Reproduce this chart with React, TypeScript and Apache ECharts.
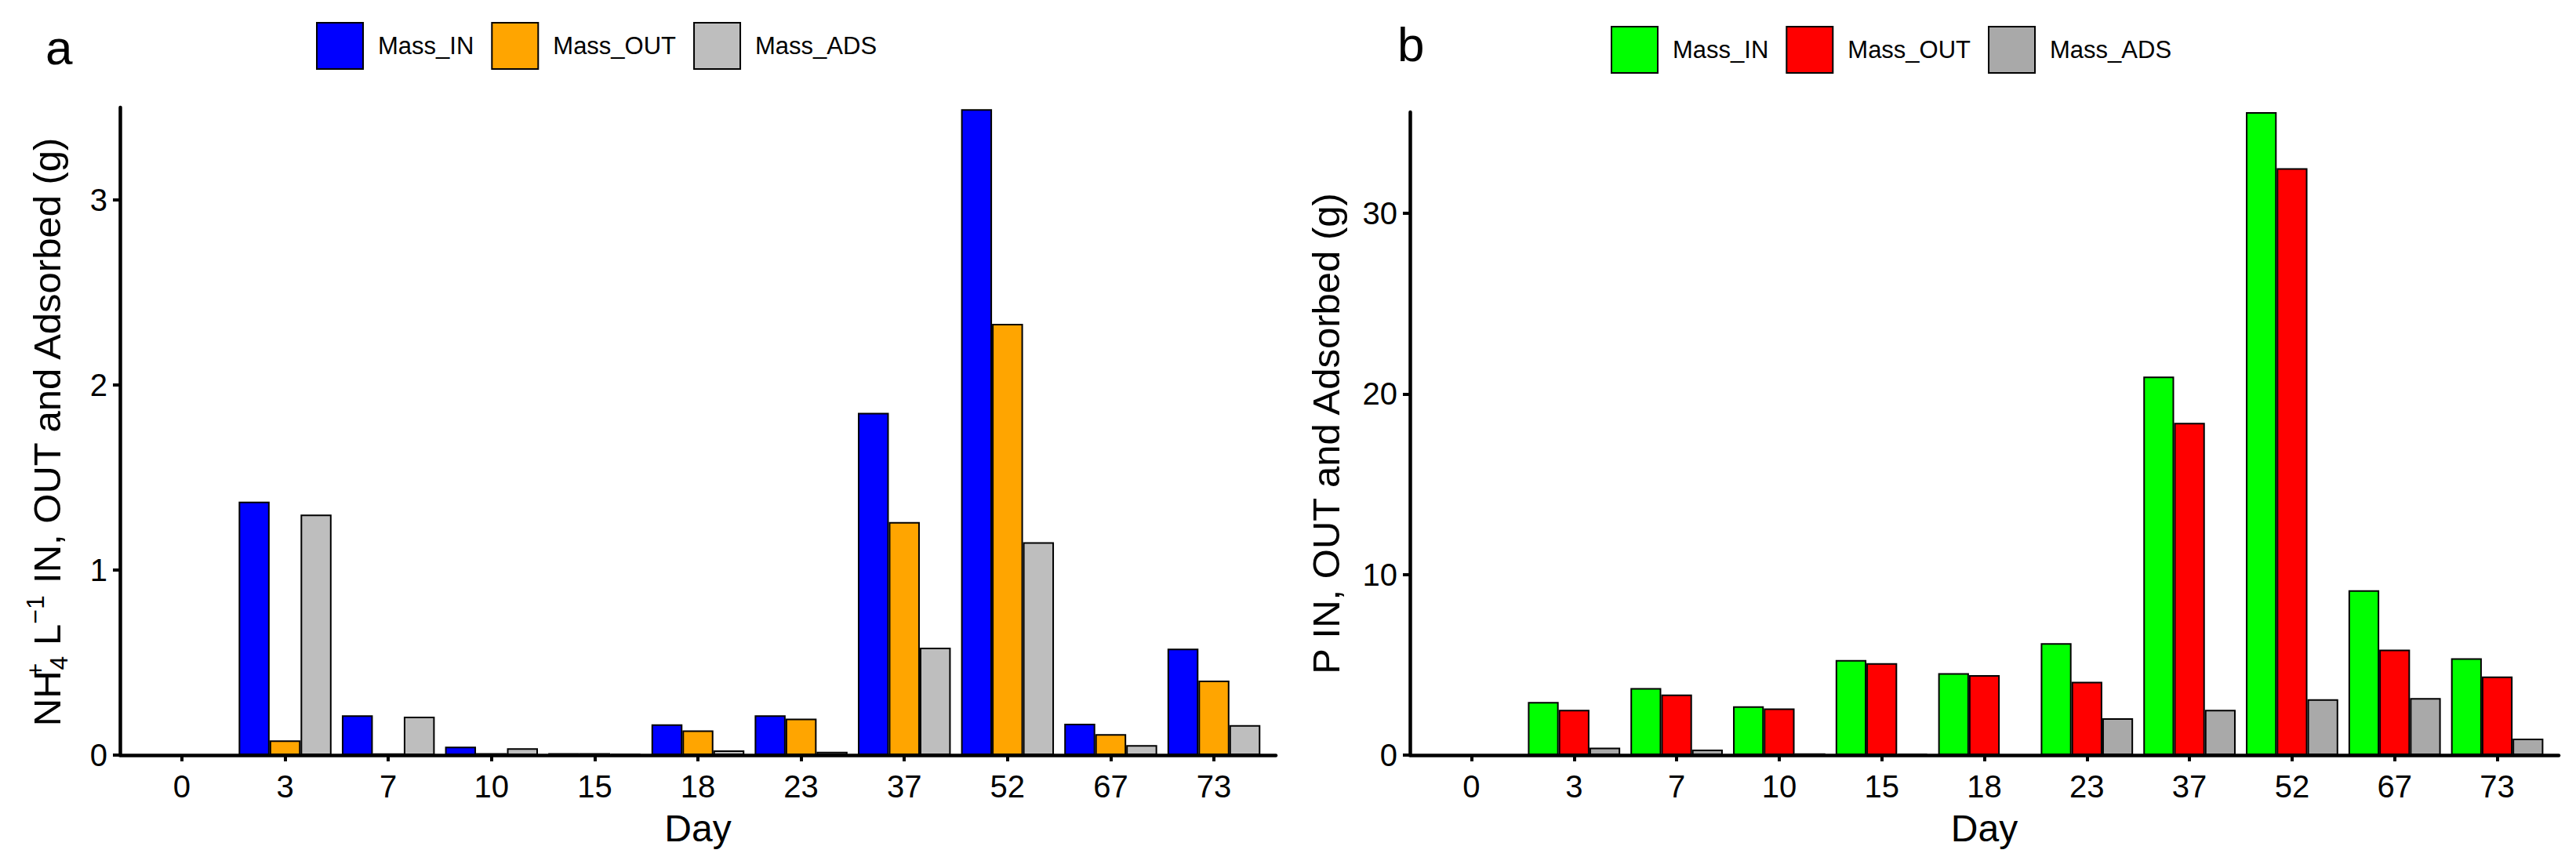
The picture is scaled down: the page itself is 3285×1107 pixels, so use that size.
import React, { useEffect, useRef } from "react";
import * as echarts from "echarts";

// ---------- data ----------
const days = ["0", "3", "7", "10", "15", "18", "23", "37", "52", "67", "73"];
const seriesNames = ["Mass_IN", "Mass_OUT", "Mass_ADS"];

// panel a : NH4+ (g)
const nh4In = [0, 1.37, 0.215, 0.046, 0.011, 0.166, 0.215, 1.85, 3.49, 0.17, 0.575];
const nh4Out = [0, 0.079, 0.01, 0.011, 0.011, 0.134, 0.197, 1.26, 2.33, 0.113, 0.403];
const nh4Ads = [0, 1.3, 0.208, 0.037, 0.008, 0.025, 0.018, 0.58, 1.15, 0.054, 0.162];
const nh4Ticks = [0, 1, 2, 3];
const nh4Max = 3.5;

// panel b : P (g)
const pIn = [0, 2.94, 3.71, 2.7, 5.26, 4.54, 6.2, 20.96, 35.6, 9.13, 5.36];
const pOut = [0, 2.51, 3.35, 2.58, 5.09, 4.43, 4.06, 18.4, 32.5, 5.84, 4.35];
const pAds = [0, 0.41, 0.3, 0.1, 0.08, 0, 2.04, 2.51, 3.09, 3.16, 0.91];
const pTicks = [0, 10, 20, 30];
const pMax = 35.6;

const colorsA = ["#0000FF", "#FFA500", "#BEBEBE"];
const colorsB = ["#00FF00", "#FF0000", "#A9A9A9"];

const FONT = "'Liberation Sans', Arial, Helvetica, sans-serif";

type Cfg = {
  letter: string;
  letterLeft: number;
  letterTop: number;
  legendLeft: number;
  legendTop: number;
  grid: { left: number; top: number; width: number; height: number };
  yMax: number;
  yTicks: number[];
  yName: string;
  yNameGap: number;
  values: number[][];
  colors: string[];
};

const rich = {
  m: { fontSize: 49, fontFamily: FONT, color: "#000", lineHeight: 62 },
  sp: { fontSize: 32, fontFamily: FONT, color: "#000", lineHeight: 30, verticalAlign: "top" },
  spz: { fontSize: 32, fontFamily: FONT, color: "#000", lineHeight: 30, verticalAlign: "top", width: 1 },
  sb: { fontSize: 32, fontFamily: FONT, color: "#000", lineHeight: 30, verticalAlign: "bottom" },
};

function buildOption(cfg: Cfg) {
  const idx = days.map((_, i) => i);
  const axisLineStyle = { color: "#000", width: 4.5 };
  return {
    animation: false,
    title: {
      text: cfg.letter,
      left: cfg.letterLeft,
      top: cfg.letterTop,
      padding: 0,
      textStyle: { fontSize: 62, fontWeight: "normal", fontFamily: FONT, color: "#000" },
    },
    legend: {
      left: cfg.legendLeft,
      top: cfg.legendTop,
      padding: 0,
      itemWidth: 59,
      itemHeight: 59,
      itemGap: 22,
      icon: "rect",
      selectedMode: false,
      data: seriesNames,
      itemStyle: { borderColor: "#000", borderWidth: 2 },
      textStyle: { fontSize: 31, fontFamily: FONT, color: "#000", padding: [0, 0, 0, 14] },
    },
    grid: { ...cfg.grid, containLabel: false },
    xAxis: {
      type: "value",
      min: -0.6,
      max: 10.6,
      splitLine: { show: false },
      axisLine: { show: true, onZero: false, lineStyle: axisLineStyle },
      axisTick: { show: true, length: 8, lineStyle: { color: "#000", width: 4 }, customValues: idx },
      axisLabel: {
        customValues: idx,
        formatter: (v: number) => days[Math.round(v)] ?? "",
        fontSize: 40,
        fontFamily: FONT,
        color: "#000",
        margin: 20,
      },
      name: "Day",
      nameLocation: "middle",
      nameGap: 69,
      nameTextStyle: { fontSize: 48, fontFamily: FONT, color: "#000" },
    },
    yAxis: {
      type: "value",
      min: 0,
      max: cfg.yMax,
      splitLine: { show: false },
      axisLine: { show: true, onZero: false, lineStyle: axisLineStyle },
      axisTick: { show: true, length: 9, lineStyle: { color: "#000", width: 4 }, customValues: cfg.yTicks },
      axisLabel: {
        customValues: cfg.yTicks,
        fontSize: 40,
        fontFamily: FONT,
        color: "#000",
        margin: 16,
      },
      name: cfg.yName,
      nameLocation: "middle",
      nameRotate: 90,
      nameGap: cfg.yNameGap,
      nameTextStyle: { fontSize: 49, fontFamily: FONT, color: "#000", lineHeight: 62, rich },
    },
    series: seriesNames.map((n, k) => ({
      type: "bar",
      name: n,
      data: cfg.values[k].map((v, i) => [i, v]),
      barWidth: "30%",
      barGap: "0%",
      itemStyle: { color: cfg.colors[k], borderColor: "#000", borderWidth: 2 },
      emphasis: { disabled: true },
    })),
  };
}

function Panel({ left, width, cfg }: { left: number; width: number; cfg: Cfg }) {
  const ref = useRef<HTMLDivElement>(null);
  useEffect(() => {
    if (!ref.current) return;
    const chart = echarts.init(ref.current, null, { renderer: "svg" });
    chart.setOption(buildOption(cfg) as any);
    return () => chart.dispose();
  }, []);
  return (
    <div
      ref={ref}
      style={{ position: "fixed", left, top: 0, width, height: 1107, background: "#fff" }}
    />
  );
}

const cfgA: Cfg = {
  letter: "a",
  letterLeft: 58,
  letterTop: 29,
  legendLeft: 403,
  legendTop: 28,
  grid: { left: 153, top: 137, width: 1474, height: 826 },
  yMax: nh4Max,
  yTicks: nh4Ticks,
  yName: "{m|NH}{spz|+}{sb|4}{m| L}{sp|−1}{m| IN, OUT and Adsorbed (g)}",
  yNameGap: 62,
  values: [nh4In, nh4Out, nh4Ads],
  colors: colorsA,
};

const cfgB: Cfg = {
  letter: "b",
  letterLeft: 142,
  letterTop: 25,
  legendLeft: 414,
  legendTop: 33,
  grid: { left: 158, top: 143, width: 1465, height: 820 },
  yMax: pMax,
  yTicks: pTicks,
  yName: "{m|P IN, OUT and Adsorbed (g)}",
  yNameGap: 76,
  values: [pIn, pOut, pAds],
  colors: colorsB,
};

export default function App() {
  return (
    <div style={{ position: "fixed", left: 0, top: 0, width: 3285, height: 1107, background: "#fff" }}>
      <Panel left={0} width={1640} cfg={cfgA} />
      <Panel left={1640} width={1645} cfg={cfgB} />
    </div>
  );
}
